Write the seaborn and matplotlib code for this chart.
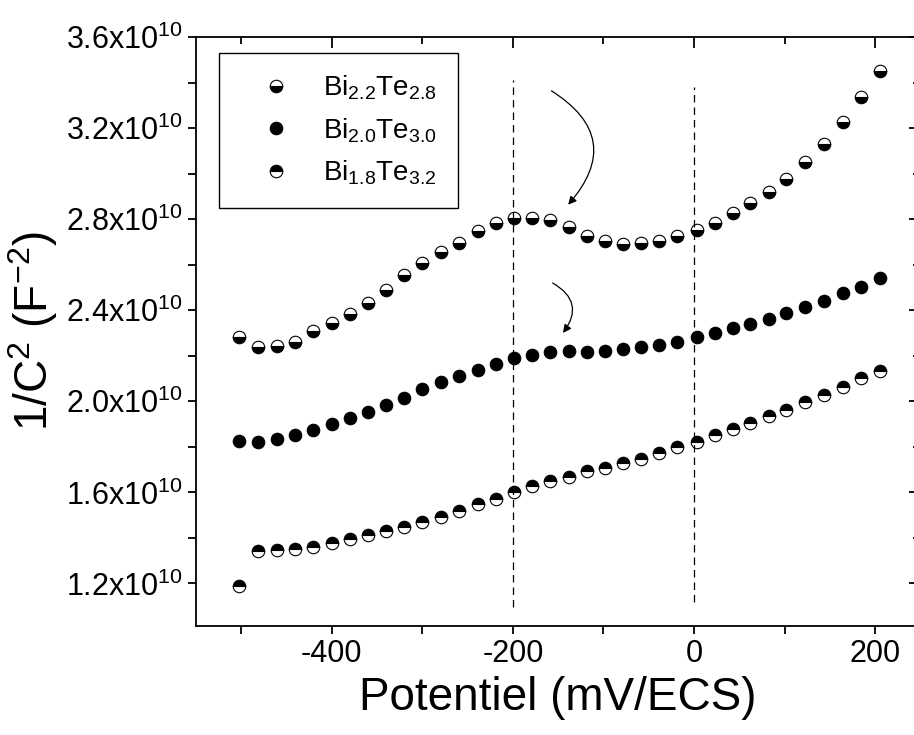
import matplotlib
matplotlib.use("Agg")
import matplotlib.pyplot as plt
import seaborn as sns
from matplotlib.ticker import MultipleLocator, FixedLocator
from matplotlib.patches import FancyArrowPatch

# potentiel (mV/ECS), same sweep for the three films
potentiel = [-502, -482, -461, -441, -421, -400, -380, -360, -340, -320, -300, -279,
             -259, -239, -219, -199, -179, -159, -138, -118, -98, -78, -59, -39,
             -19, 3, 23, 43, 62, 83, 102, 123, 144, 164, 184, 205]

# 1/C^2 in units of 1e10 F^-2
bi22_te28 = [2.281, 2.240, 2.243, 2.262, 2.310, 2.346, 2.382, 2.433, 2.489, 2.554, 2.607, 2.656,
             2.697, 2.749, 2.785, 2.804, 2.807, 2.797, 2.765, 2.727, 2.703, 2.691, 2.694, 2.706,
             2.727, 2.753, 2.785, 2.828, 2.873, 2.921, 2.976, 3.051, 3.131, 3.226, 3.336, 3.452]
bi20_te30 = [1.827, 1.822, 1.833, 1.852, 1.874, 1.899, 1.925, 1.953, 1.982, 2.016, 2.053, 2.085,
             2.110, 2.139, 2.163, 2.191, 2.204, 2.217, 2.222, 2.217, 2.221, 2.231, 2.237, 2.247,
             2.262, 2.284, 2.299, 2.324, 2.340, 2.363, 2.387, 2.413, 2.442, 2.475, 2.504, 2.542]
bi18_te32 = [1.188, 1.341, 1.345, 1.349, 1.361, 1.378, 1.393, 1.412, 1.430, 1.449, 1.471, 1.493,
             1.519, 1.549, 1.571, 1.600, 1.628, 1.651, 1.669, 1.694, 1.707, 1.727, 1.748, 1.774,
             1.798, 1.822, 1.852, 1.878, 1.906, 1.935, 1.962, 1.996, 2.026, 2.064, 2.101, 2.135]

labels = [r"Bi$_{2.2}$Te$_{2.8}$", r"Bi$_{2.0}$Te$_{3.0}$", r"Bi$_{1.8}$Te$_{3.2}$"]
ytick_vals = [1.2, 1.6, 2.0, 2.4, 2.8, 3.2, 3.6]
xtick_vals = [-400, -200, 0, 200]

# dashed guides and arrows (data coords, y in 1e10)
guide_x = [-200, 0]
guide_ymin = [1.096, 1.119]
guide_ymax = [3.412, 3.383]
arrows = [((-160, 3.371), (-141, 2.855)), ((-158.7, 2.526), (-146.6, 2.291))]

sns.set_theme(style="ticks")
plt.rcParams["font.family"] = ["Liberation Sans", "DejaVu Sans"]
plt.rcParams["mathtext.fontset"] = "custom"
plt.rcParams["mathtext.rm"] = "Liberation Sans"
plt.rcParams["mathtext.default"] = "regular"
plt.rcParams["axes.unicode_minus"] = False
plt.rcParams["text.color"] = "black"
plt.rcParams["axes.labelcolor"] = "black"

fig = plt.figure(figsize=(9.14, 7.35), dpi=100)
ax = fig.add_axes([0.2144, 0.1487, 0.7926, 0.8006])

styles = [
    dict(fillstyle="bottom", markerfacecolor="black", markerfacecoloralt="white"),
    dict(fillstyle="full", markerfacecolor="black", markerfacecoloralt="black"),
    dict(fillstyle="top", markerfacecolor="black", markerfacecoloralt="white"),
]
for ys, lab, st in zip([bi22_te28, bi20_te30, bi18_te32], labels, styles):
    sns.lineplot(x=potentiel, y=ys, ax=ax, estimator=None, sort=False,
                 color="black", linestyle="", marker="o", markersize=9,
                 markeredgecolor="black", markeredgewidth=0.8, label=lab, **st)

ax.vlines(guide_x, guide_ymin, guide_ymax, colors="black", linewidth=0.9,
          linestyles=(0, (6, 4)))
for (x0, y0), (x1, y1) in arrows:
    ax.add_patch(FancyArrowPatch((x0, y0), (x1, y1), connectionstyle="arc3,rad=-0.6",
                                 arrowstyle="-|>", mutation_scale=12, color="black",
                                 linewidth=0.9))

ax.set_xlim(-550, 250)
ax.set_ylim(1.014, 3.6)
ax.xaxis.set_major_locator(FixedLocator(xtick_vals))
ax.xaxis.set_minor_locator(MultipleLocator(100))
ax.yaxis.set_major_locator(FixedLocator(ytick_vals))
ax.yaxis.set_minor_locator(MultipleLocator(0.2))
ax.set_yticklabels([f"{v:.1f}x10$^{{10}}$" for v in ytick_vals])
ax.set_xticklabels([str(v) for v in xtick_vals])

for sp in ax.spines.values():
    sp.set_linewidth(1.3)
    sp.set_color("black")
ax.spines["right"].set_visible(False)
ax.tick_params(which="both", direction="out", width=1.3, labelsize=22, colors="black")
ax.tick_params(which="major", length=6)
ax.tick_params(which="minor", length=6)

# inward ticks on top and right
top = ax.secondary_xaxis("top")
top.xaxis.set_major_locator(FixedLocator(xtick_vals))
top.xaxis.set_minor_locator(MultipleLocator(100))
top.tick_params(which="both", direction="in", labeltop=False, width=1.3, colors="black")
top.tick_params(which="major", length=8)
top.tick_params(which="minor", length=5)
right = ax.secondary_yaxis("right")
right.yaxis.set_major_locator(FixedLocator(ytick_vals))
right.yaxis.set_minor_locator(MultipleLocator(0.2))
right.tick_params(which="both", direction="in", labelright=False, width=1.3, colors="black")
right.tick_params(which="major", length=8)
right.tick_params(which="minor", length=5)
for sec in (top, right):
    for sp in sec.spines.values():
        sp.set_visible(False)

ax.set_xlabel("Potentiel (mV/ECS)", fontsize=33, labelpad=5)
ax.set_ylabel("1/C$^{2}$ (F$^{-2}$)", fontsize=33, labelpad=4)

leg = ax.legend(loc="upper left", bbox_to_anchor=(0.032, 0.974), borderaxespad=0,
                fontsize=20, frameon=True, fancybox=False, edgecolor="black",
                framealpha=1, handlelength=2.6, handletextpad=0.4, borderpad=0.75,
                labelspacing=0.51)
leg.get_frame().set_linewidth(1.0)

fig.savefig("out.png", dpi=100)
